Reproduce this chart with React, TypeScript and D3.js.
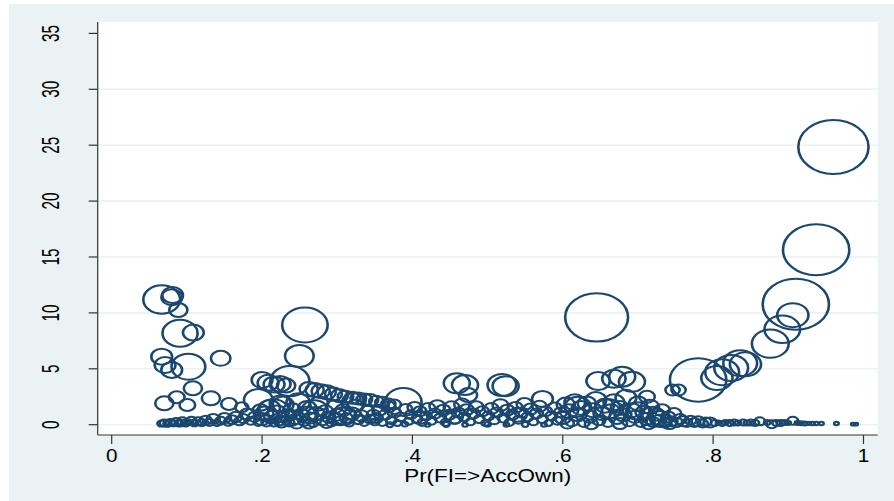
import * as d3 from 'd3';
import { useRef, useEffect } from 'react';

// [Pr(FI=>AccOwn), value, weight]
type Pt = [number, number, number];

const yTicks = [0, 5, 10, 15, 20, 25, 30, 35];
const xTicks = [0, 0.2, 0.4, 0.6, 0.8, 1];
const xTickLabels = ['0', '.2', '.4', '.6', '.8', '1'];
const xTitle = 'Pr(FI=>AccOwn)';

// large markers well above the band
const upperRight: Pt[] = [
  [0.960, 24.84, 729], [0.937, 15.65, 650], [0.910, 10.77, 650], [0.906, 9.8, 144],
  [0.892, 8.53, 188], [0.876, 7.25, 200], [0.805, 4.17, 144], [0.812, 4.7, 169],
  [0.824, 5.07, 169], [0.836, 5.5, 169], [0.843, 5.4, 144], [0.780, 4.0, 470],
  [0.746, 3.1, 30], [0.754, 3.1, 30],
];

const upperMid: Pt[] = [
  [0.645, 9.6, 585], [0.647, 3.9, 81], [0.679, 4.29, 100], [0.692, 3.84, 100],
  [0.668, 4.1, 81], [0.712, 2.5, 36],
  [0.388, 2.03, 196], [0.459, 3.7, 100], [0.470, 3.55, 100], [0.474, 2.65, 49],
  [0.519, 3.55, 121], [0.524, 3.45, 100], [0.573, 2.3, 64],
];

const upperLeft: Pt[] = [
  [0.0665, 11.2, 200], [0.081, 11.6, 64], [0.080, 11.4, 64], [0.0886, 10.26, 49],
  [0.0909, 8.18, 182], [0.1086, 8.24, 64], [0.0665, 6.08, 64], [0.071, 5.34, 64],
  [0.0798, 4.9, 64], [0.102, 5.19, 169], [0.145, 5.94, 56], [0.108, 3.25, 49],
  [0.070, 1.91, 49], [0.0865, 2.45, 36], [0.1006, 1.76, 36], [0.132, 2.36, 49],
  [0.156, 1.85, 36], [0.173, 1.56, 25],
  [0.257, 8.92, 306], [0.2496, 6.14, 121], [0.237, 3.9, 225],
  [0.200, 4.0, 64], [0.208, 3.75, 64], [0.216, 3.6, 64], [0.224, 3.65, 64], [0.232, 3.5, 49],
  [0.195, 2.2, 121], [0.224, 1.9, 64],
  [0.262, 3.2, 49], [0.27, 3.1, 49], [0.278, 3.0, 49], [0.286, 2.9, 49], [0.295, 2.75, 42],
  [0.303, 2.6, 42], [0.311, 2.5, 36], [0.32, 2.4, 36], [0.328, 2.35, 36], [0.336, 2.25, 36],
  [0.344, 2.2, 36], [0.352, 2.1, 30], [0.36, 2.0, 30], [0.368, 1.85, 30], [0.376, 1.8, 25],
  [0.322, 2.0, 81],
];

// the dense band near zero
const lowLeft: Pt[] = [
  [0.066, 0.1, 9], [0.07, 0.15, 12], [0.074, 0.08, 9], [0.078, 0.2, 12], [0.082, 0.12, 9],
  [0.086, 0.25, 16], [0.09, 0.1, 9], [0.094, 0.3, 16], [0.098, 0.15, 12], [0.102, 0.22, 9],
  [0.106, 0.35, 16], [0.11, 0.12, 9], [0.115, 0.3, 16], [0.12, 0.18, 12], [0.125, 0.4, 20],
  [0.13, 0.2, 12], [0.135, 0.5, 25], [0.14, 0.15, 9], [0.145, 0.35, 16], [0.15, 0.6, 25],
  [0.155, 0.22, 12], [0.16, 0.45, 20], [0.165, 0.7, 25], [0.17, 0.3, 16], [0.175, 0.55, 20],
  [0.18, 0.95, 30], [0.185, 0.35, 16], [0.19, 0.7, 25], [0.195, 0.2, 12], [0.198, 1.3, 36],
];

const lowMidA: Pt[] = [
  [0.2, 0.5, 36], [0.203, 1.0, 49], [0.206, 0.2, 16], [0.21, 1.5, 64], [0.213, 0.7, 36],
  [0.216, 0.15, 12], [0.22, 1.1, 49], [0.224, 0.4, 25], [0.228, 1.8, 64], [0.232, 0.8, 36],
  [0.236, 0.2, 16], [0.24, 1.3, 49], [0.244, 0.5, 25], [0.248, 2.0, 81], [0.252, 0.9, 36],
  [0.256, 0.3, 20], [0.26, 1.5, 49], [0.264, 0.6, 30], [0.268, 0.1, 12], [0.272, 1.0, 42],
  [0.276, 1.9, 49], [0.28, 0.4, 25], [0.284, 1.2, 36], [0.288, 0.7, 30], [0.292, 0.2, 16],
  [0.296, 1.6, 42], [0.3, 0.9, 36], [0.304, 0.35, 20], [0.308, 1.3, 36], [0.312, 0.6, 25],
  [0.316, 0.15, 12], [0.32, 1.0, 36], [0.324, 1.7, 36], [0.328, 0.45, 20], [0.332, 0.8, 30],
  [0.336, 0.2, 12], [0.34, 1.2, 30], [0.344, 0.5, 20], [0.348, 0.9, 25], [0.35, 0.25, 12],
  [0.215, 1.2, 144], [0.27, 1.3, 100], [0.31, 0.8, 81], [0.238, 0.6, 64], [0.258, 0.9, 64],
  [0.226, 0.25, 30], [0.246, 0.1, 25], [0.286, 0.15, 25], [0.298, 0.5, 36], [0.262, 0.05, 20],
];

const lowMidB: Pt[] = [
  [0.352, 0.6, 25], [0.356, 1.3, 30], [0.36, 0.2, 12], [0.364, 0.9, 25], [0.368, 1.6, 30],
  [0.372, 0.4, 16], [0.376, 1.1, 25], [0.38, 0.15, 9], [0.384, 0.7, 20], [0.391, 1.4, 25],
  [0.395, 0.3, 12], [0.398, 0.9, 20], [0.403, 1.55, 30], [0.406, 0.5, 16], [0.41, 1.2, 25],
  [0.413, 0.2, 12], [0.418, 0.8, 20], [0.421, 1.45, 30], [0.425, 0.35, 16], [0.43, 1.0, 25],
  [0.433, 1.65, 36], [0.437, 0.6, 20], [0.441, 1.3, 30], [0.444, 0.2, 12], [0.449, 0.9, 25],
  [0.452, 1.55, 36], [0.457, 0.45, 16], [0.461, 1.1, 25], [0.466, 1.8, 36], [0.469, 0.7, 20],
  [0.472, 1.35, 30], [0.477, 0.25, 12], [0.481, 1.0, 25], [0.485, 1.6, 30], [0.489, 0.5, 16],
  [0.493, 1.2, 25], [0.497, 0.15, 9], [0.501, 0.8, 20], [0.505, 1.45, 30], [0.509, 0.4, 16],
  [0.512, 1.1, 25], [0.517, 1.75, 36], [0.521, 0.6, 20], [0.526, 1.3, 30], [0.529, 0.2, 12],
  [0.533, 0.9, 25], [0.537, 1.55, 30], [0.541, 0.45, 16], [0.545, 1.1, 25], [0.549, 1.85, 36],
  [0.553, 0.7, 20], [0.557, 1.4, 30], [0.561, 0.25, 12], [0.565, 1.0, 25], [0.569, 1.65, 30],
  [0.573, 0.5, 16], [0.577, 1.2, 25], [0.581, 0.15, 9], [0.585, 0.8, 20], [0.589, 1.5, 30],
  [0.593, 0.35, 16], [0.597, 1.1, 25],
  [0.37, 0.0, 6], [0.39, 0.05, 6], [0.42, 0.0, 4], [0.445, 0.02, 6], [0.47, 0.0, 4],
  [0.5, 0.03, 6], [0.525, 0.0, 4], [0.55, 0.02, 6], [0.575, 0.0, 4], [0.455, 0.7, 49],
  [0.54, 0.9, 49], [0.41, 0.6, 36],
];

const lowMidC: Pt[] = [
  [0.6, 0.6, 36], [0.604, 1.8, 49], [0.608, 1.2, 49], [0.612, 0.3, 25], [0.616, 2.0, 64],
  [0.62, 0.9, 42], [0.624, 1.5, 49], [0.628, 0.2, 20], [0.632, 1.9, 49], [0.636, 0.7, 36],
  [0.64, 1.3, 49], [0.644, 2.2, 64], [0.648, 0.4, 25], [0.652, 1.0, 42], [0.656, 1.7, 49],
  [0.66, 0.15, 16], [0.664, 1.2, 49], [0.668, 2.0, 64], [0.672, 0.6, 36], [0.676, 1.5, 49],
  [0.68, 0.9, 42], [0.684, 2.4, 64], [0.688, 0.3, 25], [0.692, 1.3, 49], [0.696, 0.7, 36],
  [0.7, 1.9, 49], [0.704, 0.2, 20], [0.708, 1.1, 42], [0.712, 0.5, 36], [0.716, 1.6, 49],
  [0.72, 0.25, 25], [0.724, 0.9, 36], [0.728, 0.4, 30], [0.732, 1.3, 36], [0.736, 0.15, 20],
  [0.74, 0.7, 30], [0.744, 0.3, 25], [0.748, 1.0, 30], [0.752, 0.2, 20], [0.756, 0.5, 25],
  [0.76, 0.3, 25], [0.765, 0.15, 16], [0.77, 0.4, 20], [0.775, 0.2, 20],
  [0.62, 1.6, 100], [0.66, 1.4, 100], [0.7, 1.2, 81], [0.72, 0.8, 81], [0.73, 0.5, 64],
  [0.606, 0.1, 25], [0.638, 0.05, 25], [0.676, 0.1, 30], [0.714, 0.05, 25], [0.742, 0.1, 30],
];

const lowRight: Pt[] = [
  [0.78, 0.3, 25], [0.786, 0.1, 16], [0.79, 0.25, 20], [0.796, 0.2, 25], [0.802, 0.15, 9],
  [0.807, 0.2, 4], [0.812, 0.1, 6], [0.816, 0.2, 6], [0.822, 0.15, 9], [0.828, 0.2, 9],
  [0.833, 0.15, 6], [0.84, 0.2, 9], [0.845, 0.15, 6], [0.85, 0.2, 9], [0.862, 0.3, 16],
  [0.856, 0.15, 9], [0.878, 0.05, 16], [0.872, 0.2, 6], [0.884, 0.15, 9], [0.89, 0.15, 9],
  [0.895, 0.2, 6], [0.906, 0.35, 16], [0.9, 0.15, 4], [0.912, 0.15, 4], [0.917, 0.12, 4],
  [0.922, 0.1, 4], [0.927, 0.12, 3], [0.932, 0.1, 3], [0.937, 0.1, 3], [0.944, 0.1, 3],
  [0.964, 0.1, 3], [0.986, 0.05, 2], [0.99, 0.05, 2],
];

const allPoints = [
  ...lowLeft, ...lowMidA, ...lowMidB, ...lowMidC, ...lowRight,
  ...upperLeft, ...upperMid, ...upperRight,
];

const W = 894;
const H = 501;
const plot = { left: 97.7, top: 22, right: 877.7, bottom: 435 };
const NAVY = '#1a476f';
const BG = '#eaf2f3';
const STRETCH = 1.3; // the picture is wider than tall

const App = () => {
  const ref = useRef<SVGSVGElement>(null);

  useEffect(() => {
    if (!ref.current) return;
    const svg = d3.select(ref.current);
    svg.selectAll('*').remove();

    const x = d3.scaleLinear().domain([0, 1]).range([111.7, 863.5]);
    const y = d3.scaleLinear().domain([0, 35]).range([424.7, 33.4]);
    const r = d3.scaleSqrt().domain([0, 729]).range([0, 27]);

    svg.append('rect').attr('x', 9).attr('y', 4)
      .attr('width', W - 9).attr('height', H - 4).attr('fill', BG);
    svg.append('rect').attr('x', plot.left).attr('y', plot.top)
      .attr('width', plot.right - plot.left).attr('height', plot.bottom - plot.top)
      .attr('fill', '#fff');

    // gridlines (none at the top tick)
    svg.append('g').selectAll('line').data(yTicks.filter(d => d < 35)).join('line')
      .attr('x1', plot.left).attr('x2', plot.right)
      .attr('y1', d => y(d)).attr('y2', d => y(d))
      .attr('stroke', BG).attr('stroke-width', 1.6);

    // markers
    svg.append('g').selectAll('circle').data(allPoints).join('circle')
      .attr('transform', d => `translate(${x(d[0])},${y(d[1])}) scale(${STRETCH},1)`)
      .attr('r', d => r(d[2]))
      .attr('fill', 'none')
      .attr('stroke', NAVY)
      .attr('stroke-width', 2);

    const axis = svg.append('g').attr('stroke', '#333').attr('stroke-width', 1.2);
    axis.append('line').attr('x1', plot.left).attr('x2', plot.left)
      .attr('y1', plot.top).attr('y2', plot.bottom);
    axis.append('line').attr('x1', plot.left).attr('x2', plot.right)
      .attr('y1', plot.bottom).attr('y2', plot.bottom);
    axis.selectAll('.yt').data(yTicks).join('line').attr('class', 'yt')
      .attr('x1', plot.left - 9).attr('x2', plot.left)
      .attr('y1', d => y(d)).attr('y2', d => y(d));
    axis.selectAll('.xt').data(xTicks).join('line').attr('class', 'xt')
      .attr('x1', d => x(d)).attr('x2', d => x(d))
      .attr('y1', plot.bottom).attr('y2', plot.bottom + 9);

    const font = '"Liberation Sans", Arial, sans-serif';
    svg.append('g').selectAll('text').data(yTicks).join('text')
      .attr('transform', d => `translate(59,${y(d)}) scale(${STRETCH},1) rotate(-90) scale(0.85,1)`)
      .attr('text-anchor', 'middle')
      .attr('font-family', font).attr('font-size', 18).attr('fill', '#000')
      .text(d => String(d));

    svg.append('g').selectAll('text').data(xTicks).join('text')
      .attr('transform', d => `translate(${x(d)},461.5) scale(1.15,1)`)
      .attr('text-anchor', 'middle')
      .attr('font-family', font).attr('font-size', 18).attr('fill', '#000')
      .text((d, i) => xTickLabels[i]);

    svg.append('text')
      .attr('x', (plot.left + plot.right) / 2).attr('y', 482)
      .attr('text-anchor', 'middle')
      .attr('font-family', font).attr('font-size', 18).attr('fill', '#000')
      .attr('textLength', 167).attr('lengthAdjust', 'spacingAndGlyphs')
      .text(xTitle);
  }, []);

  return (
    <svg ref={ref} width={W} height={H}
      style={{ position: 'absolute', left: 0, top: 0, display: 'block' }} />
  );
};

export default App;
